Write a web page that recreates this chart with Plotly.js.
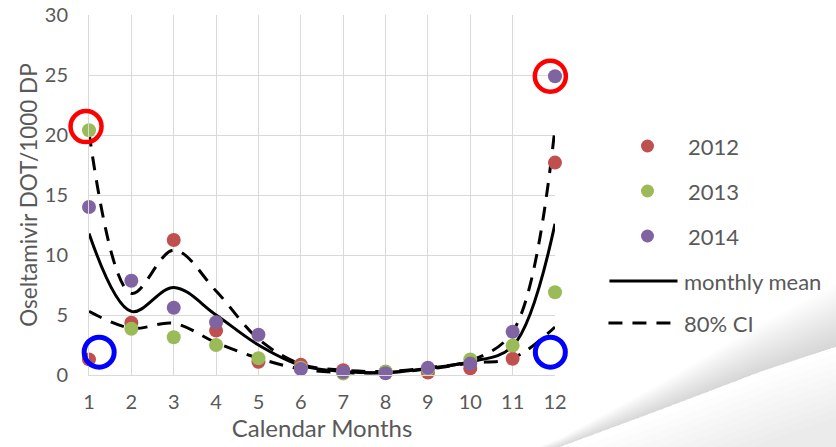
<!DOCTYPE html>
<html>
<head>
<meta charset="utf-8">
<script src="https://cdn.plot.ly/plotly-3.0.1.min.js"></script>
<style>
  html, body { margin: 0; padding: 0; background: #ffffff; }
  #chart { width: 836px; height: 447px; }
</style>
</head>
<body>
<div id="chart"></div>
<script>
// Monthly oseltamivir use (days of therapy per 1000 patient days)
const months = [1, 2, 3, 4, 5, 6, 7, 8, 9, 10, 11, 12];
const y2012 = [1.3, 4.35, 11.25, 3.7, 1.1, 0.85, 0.4, 0.25, 0.2, 0.55, 1.35, 17.7];
const y2013 = [20.4, 3.85, 3.15, 2.5, 1.4, 0.6, 0.12, 0.3, 0.5, 1.3, 2.45, 6.9];
const y2014 = [14.0, 7.85, 5.6, 4.4, 3.35, 0.5, 0.25, 0.15, 0.6, 0.95, 3.6, 24.9];
const monthlyMean = [11.8, 5.3, 7.3, 5.0, 2.5, 0.8, 0.3, 0.2, 0.55, 1.1, 2.4, 12.6];
const ciUpper = [20.2, 6.8, 10.4, 7.0, 3.0, 0.9, 0.4, 0.3, 0.6, 1.2, 3.6, 20.6];
const ciLower = [5.3, 3.9, 4.3, 2.7, 1.4, 0.5, 0.2, 0.2, 0.5, 1.0, 1.4, 4.0];

// Highlight rings: outliers (red) and low values (blue), in data units
const ringRedX = [0.93, 11.89];
const ringRedY = [20.7, 24.9];
const ringBlueX = [1.24, 11.89];
const ringBlueY = [1.9, 1.9];

const yTicks = [0, 5, 10, 15, 20, 25, 30];
const legendLabels = ['2012', '2013', '2014', 'monthly mean', '80% CI'];

const X_RANGE = [1, 12];
const Y_RANGE = [0, 30];

const FONT = 'Lato, "Open Sans", sans-serif';
const GREY_TEXT = '#595959';
const RED = '#C0504D', GREEN = '#9BBB59', PURPLE = '#8064A2';
const DASH = '14px,10px';

function lineTrace(y, dash) {
  return {
    x: months, y: y, type: 'scatter', mode: 'lines',
    line: { color: '#000000', width: 3, shape: 'spline', smoothing: 1, dash: dash },
    cliponaxis: false, hoverinfo: 'skip', showlegend: false
  };
}
function pointTrace(y, color, name) {
  return {
    x: months, y: y, type: 'scatter', mode: 'markers', name: name,
    marker: { color: color, size: 14 },
    cliponaxis: false, showlegend: false
  };
}

const traces = [
  lineTrace(ciUpper, DASH),
  lineTrace(ciLower, DASH),
  lineTrace(monthlyMean, 'solid'),
  pointTrace(y2012, RED, '2012'),
  pointTrace(y2013, GREEN, '2013'),
  pointTrace(y2014, PURPLE, '2014')
];

// Plot area in pixels
const L = 89, W = 465.6, T = 15, H = 360;
const px = v => (v - L) / W;
const py = v => (T + H - v) / H;
// data -> paper fractions (rings may sit just outside the x range)
const dx = v => (v - X_RANGE[0]) / (X_RANGE[1] - X_RANGE[0]);
const dy = v => (v - Y_RANGE[0]) / (Y_RANGE[1] - Y_RANGE[0]);

const shapes = [];
const annotations = [];

// Soft page-curl shading in the lower right corner
function arcPoints(lift) {
  return [[480, 470], [560, 447 - lift * 0.15], [660, 410 - lift * 0.45],
          [760, 372 - lift * 0.8], [850, 342 - lift * 1.1]];
}
function toPath(pts) {
  return pts.map((q, i) => (i ? 'L' : 'M') + px(q[0]).toFixed(4) + ',' + py(q[1]).toFixed(4)).join(' ');
}
// shadow above the curl edge: many thin tapering bands build a gradient
for (let lift = 3; lift <= 60; lift += 3) {
  const a = arcPoints(0), b = arcPoints(lift).reverse();
  shapes.push({
    type: 'path', xref: 'paper', yref: 'paper', layer: 'below',
    path: toPath(a.concat(b)) + ' Z', fillcolor: 'rgba(0,0,0,0.0085)', line: { width: 0 }
  });
}
// faint tint below the edge, lighter right next to it
for (let drop = 6; drop <= 60; drop += 6) {
  const a = arcPoints(0).map(q => [q[0] + drop * 0.5, q[1] + drop]);
  shapes.push({
    type: 'path', xref: 'paper', yref: 'paper', layer: 'below',
    path: toPath(a.concat([[850, 470]])) + ' Z', fillcolor: 'rgba(0,0,0,0.007)', line: { width: 0 }
  });
}

// Highlight rings
function ring(x, y, color, r, w) {
  shapes.push({
    type: 'circle', xref: 'paper', yref: 'paper', xsizemode: 'pixel', ysizemode: 'pixel',
    xanchor: dx(x), yanchor: dy(y), x0: -r, x1: r, y0: -r, y1: r,
    line: { color: color, width: w }, fillcolor: 'rgba(0,0,0,0)'
  });
}
ringRedX.forEach((x, i) => ring(x, ringRedY[i], '#FF0000', 15.5, 4.5));
ringBlueX.forEach((x, i) => ring(x, ringBlueY[i], '#0000FF', 15, 5));

// Legend beside the plot
const legendRows = [146, 191, 236, 281, 323];
[RED, GREEN, PURPLE].forEach((c, i) => {
  shapes.push({
    type: 'circle', xref: 'paper', yref: 'paper', xsizemode: 'pixel', ysizemode: 'pixel',
    xanchor: px(647), yanchor: py(legendRows[i]),
    x0: -6.5, x1: 6.5, y0: -6.5, y1: 6.5,
    fillcolor: c, line: { width: 0 }
  });
});
shapes.push({
  type: 'line', xref: 'paper', yref: 'paper',
  x0: px(609), x1: px(677), y0: py(legendRows[3]), y1: py(legendRows[3]),
  line: { color: '#000000', width: 3 }
});
shapes.push({
  type: 'line', xref: 'paper', yref: 'paper',
  x0: px(608), x1: px(678), y0: py(legendRows[4]), y1: py(legendRows[4]),
  line: { color: '#000000', width: 3, dash: DASH }
});
legendLabels.forEach((t, i) => {
  annotations.push({
    text: t, xref: 'paper', yref: 'paper', showarrow: false,
    x: px(i < 3 ? 685 : 681), y: py(legendRows[i]), xanchor: 'left', yanchor: 'middle',
    font: { family: FONT, size: 22, color: GREY_TEXT }
  });
});

const layout = {
  width: 836, height: 447,
  margin: { l: L, r: 836 - L - W, t: T, b: 447 - T - H },
  paper_bgcolor: '#ffffff', plot_bgcolor: 'rgba(255,255,255,0)',
  font: { family: FONT, size: 20, color: GREY_TEXT },
  showlegend: false,
  xaxis: {
    range: X_RANGE, tickvals: months, ticktext: months.map(String),
    showgrid: true, gridcolor: '#d9d9d9', gridwidth: 1,
    showline: true, linecolor: '#d9d9d9', linewidth: 1,
    zeroline: false, ticks: '', ticklabelstandoff: 9,
    tickfont: { family: FONT, size: 20, color: GREY_TEXT },
    title: { text: 'Calendar Months', standoff: 8, font: { family: FONT, size: 24, color: GREY_TEXT } }
  },
  yaxis: {
    range: Y_RANGE, tickvals: yTicks,
    showgrid: true, gridcolor: '#d9d9d9', gridwidth: 1,
    showline: true, linecolor: '#d9d9d9', linewidth: 1,
    zeroline: false, ticks: '', ticklabelstandoff: 16,
    tickfont: { family: FONT, size: 20, color: GREY_TEXT },
    title: { text: 'Oseltamivir DOT/1000 DP', standoff: 0, font: { family: FONT, size: 22.5, color: GREY_TEXT } }
  },
  shapes: shapes,
  annotations: annotations
};

Plotly.newPlot('chart', traces, layout, { displayModeBar: false, staticPlot: true });
</script>
</body>
</html>
